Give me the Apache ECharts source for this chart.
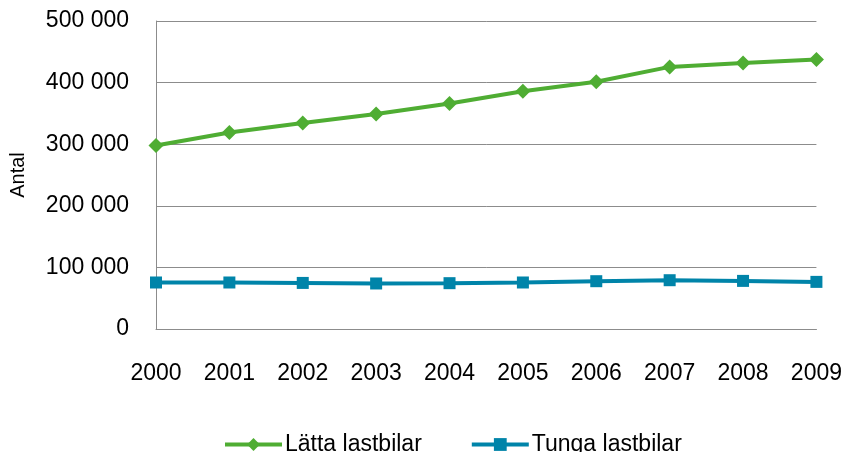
<!DOCTYPE html>
<html><head><meta charset="utf-8">
<script src="https://cdn.jsdelivr.net/npm/echarts@6/dist/echarts.min.js"></script>
<style>html,body{margin:0;padding:0;background:#fff}#c{width:845px;height:452px}</style>
</head><body><div id="c"></div>
<script>
const years = ['2000','2001','2002','2003','2004','2005','2006','2007','2008','2009'];
const latta = [298000, 319000, 334500, 349000, 366000, 386000, 401500, 425500, 432000, 437500];
const tunga = [75500, 75500, 74800, 73900, 74400, 75500, 77600, 79200, 78100, 76500];
const yTicks = [0, 100000, 200000, 300000, 400000, 500000];
const font = 'Liberation Sans';
const fmt = v => String(v).replace(/\B(?=(\d{3})+(?!\d))/g, ' ');
const chart = echarts.init(document.getElementById('c'));
chart.setOption({
  animation: false,
  grid: {left: 155, right: 28, top: 21, bottom: 123},
  legend: {
    top: 428, left: 218, itemWidth: 57, itemHeight: 16, itemGap: 48,
    textStyle: {fontFamily: font, fontSize: 23, color: '#000', padding: [0,0,0,-2]},
    lineStyle: {width: 4},
    data: [{name: 'Lätta lastbilar'}, {name: 'Tunga lastbilar'}]
  },
  xAxis: {
    type: 'category', data: years, boundaryGap: false,
    axisLine: {lineStyle: {color: '#8c8c8c'}}, axisTick: {show: false},
    axisLabel: {fontFamily: font, fontSize: 23, color: '#000', margin: 33}
  },
  yAxis: {
    type: 'value', min: yTicks[0], max: yTicks[yTicks.length-1], interval: 100000,
    name: 'Antal', nameLocation: 'middle', nameGap: 128, nameRotate: 90,
    nameTextStyle: {fontFamily: font, fontSize: 20, color: '#000'},
    axisLine: {show: true, lineStyle: {color: '#8c8c8c'}}, axisTick: {show: false},
    splitLine: {lineStyle: {color: '#8c8c8c'}},
    axisLabel: {fontFamily: font, fontSize: 23, color: '#000', margin: 27, formatter: fmt}
  },
  series: [
    {name: 'Lätta lastbilar', type: 'line', data: latta, symbol: 'diamond', symbolSize: 15,
     lineStyle: {width: 4, color: '#4fad33'}, itemStyle: {color: '#4fad33'}},
    {name: 'Tunga lastbilar', type: 'line', data: tunga, symbol: 'rect', symbolSize: 12,
     lineStyle: {width: 4, color: '#0084a9'}, itemStyle: {color: '#0084a9'}}
  ]
});
</script></body></html>
